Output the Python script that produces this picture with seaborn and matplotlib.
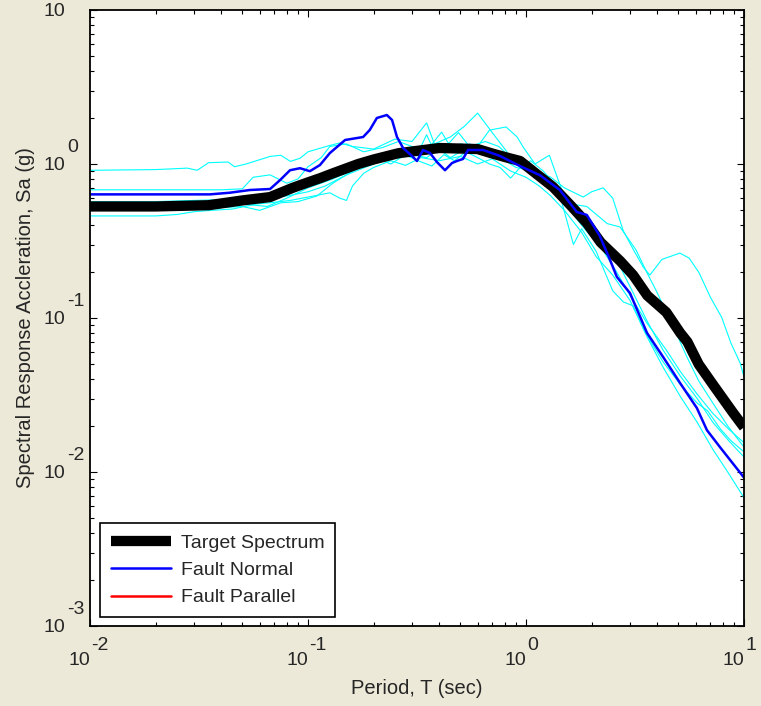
import numpy as np
import pandas as pd
import matplotlib
matplotlib.use("Agg")
import matplotlib.pyplot as plt
import seaborn as sns
from matplotlib.lines import Line2D
from matplotlib.ticker import FixedLocator, FixedFormatter, LogLocator, NullFormatter

# ---------------- data ----------------
target_T = [0.01, 0.02, 0.035, 0.05, 0.067, 0.085, 0.1, 0.114, 0.13, 0.17, 0.2, 0.26, 0.32,
            0.4, 0.5, 0.6, 0.7, 0.8, 0.94, 1.1, 1.33, 1.6, 1.9, 2.2, 2.7, 3.1, 3.6, 4.4,
            5.1, 5.5, 6.2, 7.2, 8.9, 10]
target_Sa = [0.53, 0.53, 0.54, 0.58, 0.61, 0.70, 0.76, 0.81, 0.87, 1.0, 1.07, 1.175, 1.22,
             1.27, 1.26, 1.25, 1.17, 1.11, 1.046, 0.877, 0.71, 0.54, 0.414, 0.31, 0.235, 0.19,
             0.14, 0.109, 0.08, 0.07, 0.05, 0.037, 0.0243, 0.0195]

normal_T = [0.01, 0.0355, 0.0438, 0.0542, 0.067, 0.0745, 0.0827, 0.0919, 0.102, 0.1135, 0.126,
            0.148, 0.179, 0.192, 0.207, 0.23, 0.243, 0.256, 0.273, 0.30, 0.316, 0.337, 0.363,
            0.391, 0.425, 0.458, 0.482, 0.514, 0.542, 0.635, 0.76, 0.938, 1.16, 1.43, 1.71,
            1.9, 2.18, 2.43, 2.61, 3.0, 3.59, 4.25, 5.08, 6.08, 6.76, 7.76, 10]
normal_Sa = [0.635, 0.635, 0.651, 0.678, 0.688, 0.787, 0.911, 0.939, 0.898, 0.985, 1.178,
             1.432, 1.497, 1.663, 1.99, 2.08, 1.931, 1.497, 1.27, 1.127, 1.046, 1.233, 1.178,
             1.027, 0.911, 1.015, 1.046, 1.078, 1.233, 1.233, 1.127, 0.97, 0.845, 0.678, 0.488,
             0.467, 0.341, 0.238, 0.185, 0.145, 0.080, 0.056, 0.038, 0.026, 0.0187, 0.0145,
             0.0092]

rec1_T = [0.01, 0.02, 0.028, 0.031, 0.035, 0.043, 0.046, 0.052, 0.067, 0.075, 0.083, 0.092,
          0.1, 0.126, 0.14, 0.16, 0.2, 0.25, 0.3, 0.35, 0.38, 0.45, 0.52, 0.6, 0.7, 0.8, 0.9,
          1.0, 1.15, 1.3, 1.5, 1.8, 2.2, 2.6, 3.0, 3.6, 4.4, 5.1, 6.1, 7.2, 8.5, 10]
rec1_Sa = [0.91, 0.92, 0.94, 0.91, 1.02, 1.03, 0.96, 1.0, 1.12, 1.14, 1.04, 1.09, 1.2, 1.32,
           1.37, 1.3, 1.25, 1.45, 1.4, 1.85, 1.35, 1.5, 1.75, 2.14, 1.6, 1.25, 1.0, 0.92, 0.82,
           0.7, 0.56, 0.4, 0.29, 0.2, 0.14, 0.092, 0.062, 0.045, 0.032, 0.024, 0.019, 0.0155]

rec2_T = [0.01, 0.04, 0.05, 0.056, 0.067, 0.08, 0.09, 0.1, 0.115, 0.126, 0.15, 0.18, 0.22,
          0.26, 0.3, 0.35, 0.41, 0.45, 0.5, 0.6, 0.68, 0.81, 0.91, 0.97, 1.1, 1.28, 1.4, 1.54,
          1.8, 2.2, 2.6, 3.0, 3.6, 4.25, 5.1, 6.1, 7.2, 8.5, 10]
rec2_Sa = [0.68, 0.68, 0.69, 0.82, 0.85, 0.75, 0.80, 0.96, 1.1, 1.3, 1.35, 1.2, 1.28, 1.4,
           1.3, 1.22, 1.61, 1.3, 1.35, 1.3, 1.66, 1.74, 1.5, 1.29, 1.0, 1.14, 0.8, 0.55, 0.45,
           0.33, 0.24, 0.16, 0.095, 0.062, 0.042, 0.030, 0.021, 0.016, 0.0125]

rec3_T = [0.01, 0.02, 0.03, 0.045, 0.06, 0.08, 0.1, 0.12, 0.15, 0.2, 0.25, 0.3, 0.35, 0.4,
          0.45, 0.5, 0.55, 0.6, 0.7, 0.8, 0.9, 1.0, 1.15, 1.3, 1.5, 1.83, 2.0, 2.26, 2.5, 2.79,
          3.1, 3.45, 3.7, 4.2, 5.08, 5.6, 6.23, 7.0, 7.9, 8.7, 9.6, 10]
rec3_Sa = [0.57, 0.57, 0.58, 0.59, 0.6, 0.62, 0.66, 0.72, 0.85, 1.0, 1.2, 1.15, 1.1, 1.25,
           1.1, 1.2, 1.35, 1.3, 1.15, 1.05, 0.95, 0.92, 0.88, 0.82, 0.7, 0.61, 0.66, 0.70,
           0.6, 0.37, 0.28, 0.214, 0.19, 0.24, 0.264, 0.245, 0.196, 0.137, 0.101, 0.069,
           0.051, 0.0415]

rec4_T = [0.01, 0.015, 0.02, 0.025, 0.03, 0.036, 0.045, 0.058, 0.067, 0.083, 0.1, 0.126,
          0.14, 0.15, 0.16, 0.18, 0.2, 0.24, 0.28, 0.33, 0.4, 0.5, 0.6, 0.7, 0.85, 1.0, 1.15,
          1.3, 1.5, 1.8, 2.1, 2.5, 3.0, 3.6, 4.25, 5.1, 6.1, 7.2, 8.5, 10]
rec4_Sa = [0.46, 0.46, 0.46, 0.47, 0.49, 0.50, 0.51, 0.55, 0.56, 0.58, 0.61, 0.65, 0.60, 0.58,
           0.72, 0.87, 0.95, 1.05, 0.98, 1.1, 1.05, 1.12, 1.0, 1.08, 0.9, 0.82, 0.72, 0.62,
           0.5, 0.36, 0.25, 0.19, 0.13, 0.075, 0.048, 0.031, 0.021, 0.014, 0.0098, 0.0068]

rec5_T = [0.01, 0.03, 0.05, 0.065, 0.08, 0.1, 0.13, 0.17, 0.2, 0.25, 0.3, 0.33, 0.35, 0.38,
          0.43, 0.49, 0.55, 0.65, 0.75, 0.85, 1.0, 1.15, 1.3, 1.6, 1.9, 2.36, 2.7, 3.2, 3.6,
          3.96, 4.7, 5.5, 6.2, 7.2, 8.4, 10]
rec5_Sa = [0.53, 0.53, 0.55, 0.53, 0.6, 0.7, 0.8, 0.95, 1.05, 1.2, 1.1, 1.3, 1.55, 1.2, 1.3,
           1.6, 1.3, 1.4, 1.3, 1.1, 0.95, 0.8, 0.7, 0.55, 0.53, 0.41, 0.39, 0.276, 0.195,
           0.15, 0.09, 0.055, 0.039, 0.028, 0.02, 0.0145]

rec6_T = [0.01, 0.03, 0.05, 0.06, 0.075, 0.09, 0.11, 0.13, 0.16, 0.2, 0.24, 0.28, 0.32, 0.37,
          0.42, 0.47, 0.53, 0.6, 0.68, 0.76, 0.85, 0.94, 1.05, 1.2, 1.4, 1.65, 1.8, 2.1, 2.5,
          2.8, 3.1, 3.5, 4.25, 5.1, 6.1, 6.8, 7.8, 8.7, 10]
rec6_Sa = [0.5, 0.51, 0.53, 0.5, 0.56, 0.57, 0.62, 0.75, 0.9, 1.1, 1.0, 1.15, 1.05, 0.97,
           1.15, 1.05, 1.2, 1.1, 1.0, 0.95, 0.81, 0.95, 1.05, 0.9, 0.7, 0.3, 0.38, 0.27, 0.15,
           0.127, 0.12, 0.082, 0.052, 0.037, 0.028, 0.025, 0.019, 0.016, 0.0135]

legend_labels = ["Target Spectrum", "Fault Normal", "Fault Parallel"]
x_major = [0.01, 0.1, 1, 10]
x_exp = ["-2", "-1", "0", "1"]
y_major = [0.001, 0.01, 0.1, 1, 10]
y_exp = ["-3", "-2", "-1", "0", ""]

# ---------------- figure ----------------
sns.set_style("ticks")
plt.rcParams['font.family'] = ['Liberation Sans', 'DejaVu Sans']

BG = '#ECE9D8'
fig = plt.figure(figsize=(7.61, 7.06), dpi=100, facecolor=BG)
ax = fig.add_axes([90 / 761, 80 / 706, 654 / 761, 616 / 706])
ax.set_facecolor('white')
ax.set_xscale('log')
ax.set_yscale('log')

recs = [(rec1_T, rec1_Sa), (rec2_T, rec2_Sa), (rec3_T, rec3_Sa),
        (rec4_T, rec4_Sa), (rec5_T, rec5_Sa), (rec6_T, rec6_Sa)]
df_c = pd.concat([pd.DataFrame({'T': t, 'Sa': s, 'rec': i}) for i, (t, s) in enumerate(recs)],
                 ignore_index=True)
sns.lineplot(data=df_c, x='T', y='Sa', units='rec', estimator=None, color='#00FFFF',
             lw=0.8, ax=ax, legend=False)
sns.lineplot(x=target_T, y=target_Sa, color='black', lw=7.4, ax=ax,
             solid_capstyle='butt', solid_joinstyle='round')
sns.lineplot(x=normal_T, y=normal_Sa, color='#0000FF', lw=1.8, ax=ax)

ax.set_xlim(0.01, 10)
ax.set_ylim(0.001, 10)

for sp in ax.spines.values():
    sp.set_visible(True)
    sp.set_color('black')
    sp.set_linewidth(1.3)

ax.xaxis.set_major_locator(FixedLocator(x_major))
ax.xaxis.set_major_formatter(FixedFormatter(["10"] * len(x_major)))
ax.yaxis.set_major_locator(FixedLocator(y_major))
ax.yaxis.set_major_formatter(FixedFormatter(["10"] * len(y_major)))
ax.xaxis.set_minor_locator(LogLocator(base=10, subs=range(2, 10)))
ax.yaxis.set_minor_locator(LogLocator(base=10, subs=range(2, 10)))
ax.xaxis.set_minor_formatter(NullFormatter())
ax.yaxis.set_minor_formatter(NullFormatter())

ax.tick_params(which='both', direction='in', top=True, right=True, color='black', width=0.8)
ax.tick_params(which='major', length=5)
ax.tick_params(which='minor', length=3)
ax.tick_params(axis='x', which='major', pad=19, labelsize=14)
ax.tick_params(axis='y', which='major', pad=18, labelsize=14)
for lbl in ax.get_xticklabels():
    lbl.set_ha('right')

for t, e in zip(x_major, x_exp):
    ax.annotate(e, xy=(t, 0), xycoords=('data', 'axes fraction'), xytext=(1, -17.5),
                textcoords='offset points', ha='left', va='baseline', fontsize=14,
                annotation_clip=False)
for v, e in zip(y_major, y_exp):
    if e:
        ax.annotate(e, xy=(0, v), xycoords=('axes fraction', 'data'), xytext=(-16.5, 9),
                    textcoords='offset points', ha='left', va='baseline', fontsize=14,
                    annotation_clip=False)

ax.set_xlabel('Period, T (sec)', fontsize=14.5, labelpad=7)
ax.set_ylabel('Spectral Response Accleration, Sa (g)', fontsize=14.5, labelpad=6)

handles = [Line2D([], [], color='black', lw=7.4, solid_capstyle='butt'),
           Line2D([], [], color='#0000FF', lw=1.8),
           Line2D([], [], color='#FF0000', lw=1.8)]
leg = ax.legend(handles, legend_labels, loc='lower left', bbox_to_anchor=(10 / 654, 9 / 616),
                borderaxespad=0, frameon=True, fancybox=False, edgecolor='black',
                framealpha=1, fontsize=14, handlelength=3.1, handletextpad=0.5,
                labelspacing=0.5, borderpad=0.55)
leg.get_frame().set_linewidth(1.2)

fig.savefig('out.png', dpi=100, facecolor=BG)
